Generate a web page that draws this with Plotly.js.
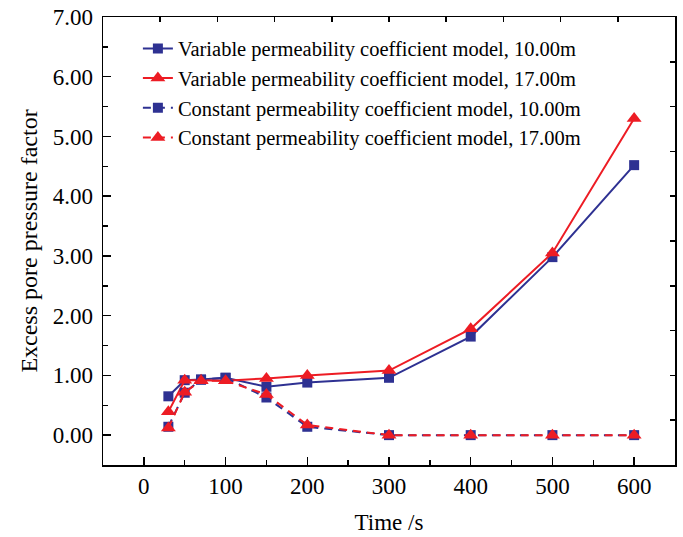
<!DOCTYPE html>
<html>
<head>
<meta charset="utf-8">
<script src="https://cdn.plot.ly/plotly-3.0.1.min.js"></script>
<style>html,body{margin:0;padding:0;background:#fff;}#chart{width:683px;height:537px;}</style>
</head>
<body>
<div id="chart"></div>
<script>
const timeS = [30, 50, 70, 100, 150, 200, 300, 400, 500, 600];
const variable10 = [0.65, 0.92, 0.93, 0.96, 0.81, 0.88, 0.96, 1.65, 2.98, 4.52];
const variable17 = [0.39, 0.92, 0.92, 0.91, 0.95, 1.00, 1.08, 1.78, 3.05, 5.30];
const constant10 = [0.14, 0.71, 0.93, 0.96, 0.63, 0.14, 0.00, 0.00, 0.00, 0.00];
const constant17 = [0.12, 0.72, 0.91, 0.91, 0.68, 0.17, 0.00, 0.00, 0.00, 0.00];
const seriesNames = [
  "Variable permeability coefficient model, 10.00m",
  "Variable permeability coefficient model, 17.00m",
  "Constant permeability coefficient model, 10.00m",
  "Constant permeability coefficient model, 17.00m"
];
const yTickVals = [0, 1, 2, 3, 4, 5, 6, 7];
const xTickVals = [0, 100, 200, 300, 400, 500, 600];

const BLUE = "#2E3192", RED = "#ED1C24";
const DASH = "8px,6px";
function tr(y, name, color, sym, size, dash) {
  return {x: timeS, y: y, name: name, type: "scatter", mode: "lines+markers",
    line: {color: color, width: 2, dash: dash},
    marker: {color: color, symbol: sym, size: size}};
}
const data = [
  tr(variable10, seriesNames[0], BLUE, "square", 10, "solid"),
  tr(variable17, seriesNames[1], RED, "triangle-up", 13, "solid"),
  tr(constant10, seriesNames[2], BLUE, "square", 10, DASH),
  tr(constant17, seriesNames[3], RED, "triangle-up", 13, DASH)
];
// mirror frame axes (top/right) with ten equal divisions
data.push({x: [0, 10], y: [0, 10], xaxis: "x2", yaxis: "y2", mode: "none", type: "scatter", showlegend: false, hoverinfo: "skip"});

const FAM = "'Times New Roman', 'Liberation Serif', serif";
const font = {family: FAM, size: 23, color: "#000"};
const layout = {
  width: 683, height: 537,
  margin: {l: 103, r: 8, t: 17, b: 72},
  paper_bgcolor: "#fff", plot_bgcolor: "#fff",
  font: font,
  showlegend: true,
  legend: {x: 0.061, y: 0.974, xanchor: "left", yanchor: "top", bgcolor: "rgba(0,0,0,0)",
    font: {family: FAM, size: 20.5, color: "#000"}, tracegroupgap: 0},
  xaxis: {range: [-50, 650], tickvals: xTickVals, ticks: "inside", ticklen: 8, tickwidth: 1.5, tickcolor: "#000",
    minor: {dtick: 50, tick0: 0, ticks: "inside", ticklen: 5, tickwidth: 1.5, tickcolor: "#000"},
    showline: true, linecolor: "#000", linewidth: 1.5, showgrid: false, zeroline: false,
    title: {text: "Time /s", font: font, standoff: 16}, tickfont: font},
  yaxis: {range: [-0.5, 7], tickvals: yTickVals, tickformat: ".2f", ticks: "inside", ticklen: 8, tickwidth: 1.5, tickcolor: "#000",
    ticklabelstandoff: 4,
    minor: {dtick: 0.5, tick0: 0, ticks: "inside", ticklen: 5, tickwidth: 1.5, tickcolor: "#000"},
    showline: true, linecolor: "#000", linewidth: 1.5, showgrid: false, zeroline: false,
    title: {text: "Excess pore pressure factor", font: {family: FAM, size: 24, color: "#000"}, standoff: 8}, tickfont: font},
  xaxis2: {overlaying: "x", side: "top", range: [0, 10], dtick: 1, ticks: "inside", ticklen: 5, tickwidth: 1.5, tickcolor: "#000",
    showticklabels: false, showline: true, linecolor: "#000", linewidth: 1.5, showgrid: false, zeroline: false},
  yaxis2: {overlaying: "y", side: "right", range: [0, 10], dtick: 1, ticks: "inside", ticklen: 5, tickwidth: 1.5, tickcolor: "#000",
    showticklabels: false, showline: true, linecolor: "#000", linewidth: 1.5, showgrid: false, zeroline: false}
};
Plotly.newPlot("chart", data, layout, {displayModeBar: false, staticPlot: true});
</script>
</body>
</html>
